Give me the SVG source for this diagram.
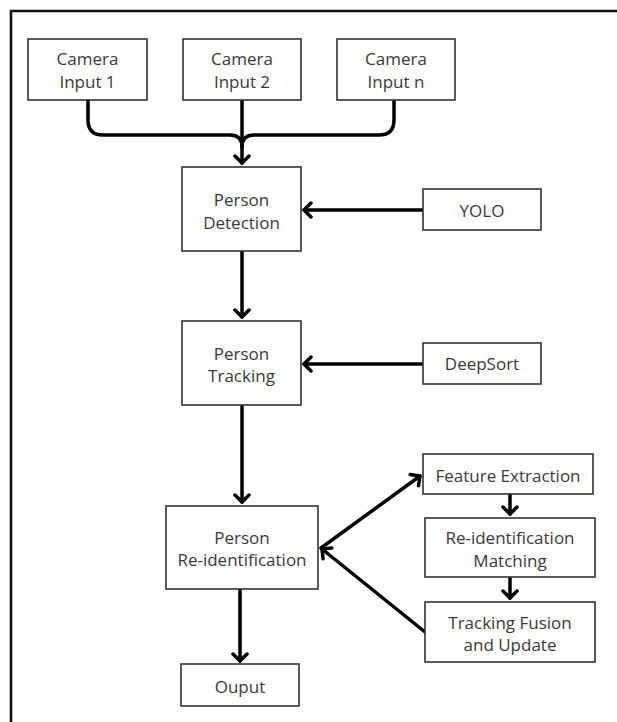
<svg xmlns="http://www.w3.org/2000/svg" width="617" height="722" viewBox="0 0 617 722">
<style>
.box{fill:#fff;stroke:#333;stroke-width:1.6}
.t{font-family:"Open Sans","Liberation Sans",sans-serif;font-size:17px;fill:#3a3a3a;text-anchor:middle;dominant-baseline:central}
.c{fill:none;stroke:#000;stroke-width:3.5;stroke-linecap:round;stroke-linejoin:round}
</style>
<defs>
<marker id="ah" markerUnits="userSpaceOnUse" viewBox="-12 -10 14 20" refX="0" refY="0" markerWidth="14" markerHeight="20" orient="auto">
<path d="M-7,-7 L0,0 L-7,7" fill="none" stroke="#000" stroke-width="3.5" stroke-linecap="round" stroke-linejoin="miter"/>
</marker>
</defs>
<path d="M11,722 V11 H617" fill="none" stroke="#111" stroke-width="2.6"/>
<g id="connectors">
<path class="c" d="M88,100 V120 Q88,135 103,135 H230 Q242,135 242,147"/>
<path class="c" d="M394,100 V120 Q394,135 379,135 H254 Q242,135 242,147"/>
<path class="c" d="M242,100 V163" marker-end="url(#ah)"/>
<path class="c" d="M423,210 H304" marker-end="url(#ah)"/>
<path class="c" d="M242,251 V317" marker-end="url(#ah)"/>
<path class="c" d="M423,364 H304" marker-end="url(#ah)"/>
<path class="c" d="M242,405 V502" marker-end="url(#ah)"/>
<path class="c" d="M240,589 V661" marker-end="url(#ah)"/>
<path class="c" d="M321,548 L420,476" marker-end="url(#ah)"/>
<path class="c" d="M425,632 L322,549" marker-end="url(#ah)"/>
<path class="c" d="M510,494 V514" marker-end="url(#ah)"/>
<path class="c" d="M510,577 V598" marker-end="url(#ah)"/>
</g>
<g id="cam1"><rect class="box" x="28" y="39" width="119" height="61"/><text class="t" x="87.5" y="58">Camera</text><text class="t" x="87.5" y="81">Input 1</text></g>
<g id="cam2"><rect class="box" x="183" y="39" width="118" height="61"/><text class="t" x="242" y="58">Camera</text><text class="t" x="242" y="81">Input 2</text></g>
<g id="camn"><rect class="box" x="337" y="39" width="118" height="61"/><text class="t" x="396" y="58">Camera</text><text class="t" x="396" y="81">Input n</text></g>
<g id="detection"><rect class="box" x="182" y="167" width="119" height="84"/><text class="t" x="241.5" y="199">Person</text><text class="t" x="241.5" y="222">Detection</text></g>
<g id="yolo"><rect class="box" x="423" y="189" width="118" height="41"/><text class="t" x="482" y="210">YOLO</text></g>
<g id="tracking"><rect class="box" x="182" y="321" width="119" height="84"/><text class="t" x="241.5" y="353">Person</text><text class="t" x="241.5" y="375">Tracking</text></g>
<g id="deepsort"><rect class="box" x="423" y="343" width="118" height="41"/><text class="t" x="482" y="363.5">DeepSort</text></g>
<g id="reid"><rect class="box" x="166" y="506" width="152" height="83"/><text class="t" x="242" y="537">Person</text><text class="t" x="242" y="559">Re-identification</text></g>
<g id="feature"><rect class="box" x="423" y="454" width="170" height="40"/><text class="t" x="508" y="475">Feature Extraction</text></g>
<g id="matching"><rect class="box" x="425" y="518" width="170" height="59"/><text class="t" x="510" y="537">Re-identification</text><text class="t" x="510" y="560">Matching</text></g>
<g id="fusion"><rect class="box" x="425" y="602" width="170" height="60"/><text class="t" x="510" y="622">Tracking Fusion</text><text class="t" x="510" y="644">and Update</text></g>
<g id="output"><rect class="box" x="181" y="664" width="118" height="42"/><text class="t" x="240" y="686">Ouput</text></g>
</svg>
